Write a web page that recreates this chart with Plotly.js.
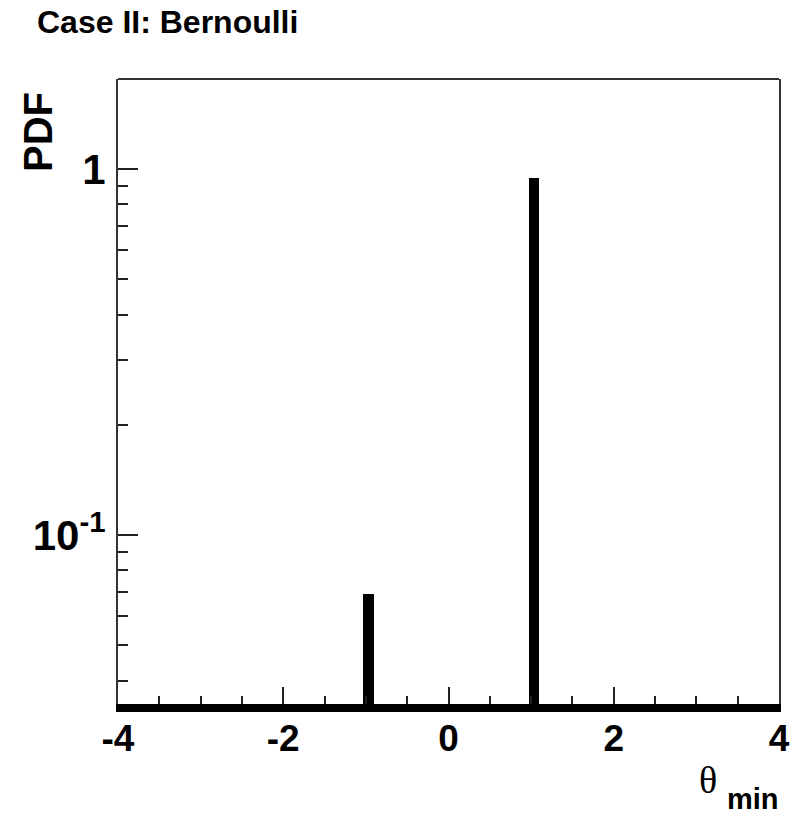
<!DOCTYPE html>
<html>
<head>
<meta charset="utf-8">
<script src="https://cdn.plot.ly/plotly-3.0.1.min.js"></script>
<style>html,body{margin:0;padding:0;background:#fff;}#chart{width:799px;height:819px;}</style>
</head>
<body>
<div id="chart"></div>
<script>
// Data
var thetaMin = [-1, 1];
var pdfValues = [0.069, 0.945];

// Axis ticks
var xTickVals = [-4, -2, 0, 2, 4];
var xTickText = ["-4", "-2", "0", "2", "4"];
var xMinorVals = [-3.5, -3, -2.5, -1.5, -1, -0.5, 0.5, 1, 1.5, 2.5, 3, 3.5];
var yTickVals = [0.1, 1];
var yTickText = ["10<sup>-1</sup>", "1"];
var yMinorVals = [0.04, 0.05, 0.06, 0.07, 0.08, 0.09, 0.2, 0.3, 0.4, 0.5, 0.6, 0.7, 0.8, 0.9];

var L = 118, R = 779, T = 79, B = 704, W = 799, H = 819;
function px(xp){ return (xp - L) / (R - L); }
function py(yp){ return (B - yp) / (B - T); }

var trace = {
  type: 'bar',
  x: thetaMin,
  y: pdfValues,
  width: 0.125,
  offset: -0.03,
  marker: {color: '#000', line: {width: 0}},
  hoverinfo: 'x+y'
};

var layout = {
  width: W, height: H,
  margin: {l: L, r: W - R, t: T, b: H - B, pad: 0},
  paper_bgcolor: '#fff', plot_bgcolor: '#fff',
  showlegend: false,
  bargap: 0,
  title: {
    text: 'Case II: Bernoulli',
    font: {family: 'Liberation Sans, Arial, sans-serif', size: 32, weight: 'bold', color: '#000'},
    xref: 'container', yref: 'container',
    x: 37 / W, xanchor: 'left',
    y: 1 - 22 / H, yanchor: 'middle'
  },
  xaxis: {
    range: [-4, 4],
    showgrid: false, zeroline: false,
    showline: true, linewidth: 8, linecolor: '#000', mirror: false,
    tickmode: 'array', tickvals: xTickVals, ticktext: xTickText,
    ticks: 'inside', ticklen: 17, tickwidth: 2, tickcolor: '#222',
    minor: {tickmode: 'array', tickvals: xMinorVals, ticks: 'inside', ticklen: 8, tickwidth: 2, tickcolor: '#222', showgrid: false},
    tickfont: {family: 'Liberation Sans, Arial, sans-serif', size: 37, weight: 'bold', color: '#000'},
    ticklabelstandoff: -5
  },
  yaxis: {
    type: 'log',
    range: [-1.4617, 0.2459],
    showgrid: false, zeroline: false,
    showline: true, linewidth: 2, linecolor: '#333', mirror: true,
    tickmode: 'array', tickvals: yTickVals, ticktext: yTickText,
    ticks: 'inside', ticklen: 20, tickwidth: 2, tickcolor: '#222',
    minor: {tickmode: 'array', tickvals: yMinorVals, ticks: 'inside', ticklen: 10, tickwidth: 2, tickcolor: '#222', showgrid: false},
    tickfont: {family: 'Liberation Sans, Arial, sans-serif', size: 42, weight: 'bold', color: '#000'},
    ticklabelstandoff: 2
  },
  shapes: [
    {type: 'line', xref: 'paper', yref: 'paper', x0: 0, x1: 1, y0: 1, y1: 1, line: {color: '#333', width: 2}}
  ],
  annotations: [
    {text: '<b>PDF</b>', textangle: -90, xref: 'paper', yref: 'paper',
     x: px(38), y: py(132), xanchor: 'center', yanchor: 'middle', showarrow: false,
     font: {family: 'Liberation Sans, Arial, sans-serif', size: 40, color: '#000'}},
    {text: 'θ', xref: 'paper', yref: 'paper', x: px(708), y: py(780), xanchor: 'center', yanchor: 'middle', showarrow: false,
     font: {family: 'Liberation Serif, Times New Roman, serif', size: 38, color: '#000'}},
    {text: '<b>min</b>', xref: 'paper', yref: 'paper', x: px(753), y: py(799), xanchor: 'center', yanchor: 'middle', showarrow: false,
     font: {family: 'Liberation Sans, Arial, sans-serif', size: 29, color: '#000'}}
  ]
};

Plotly.newPlot('chart', [trace], layout, {staticPlot: true, displayModeBar: false});
</script>
</body>
</html>
